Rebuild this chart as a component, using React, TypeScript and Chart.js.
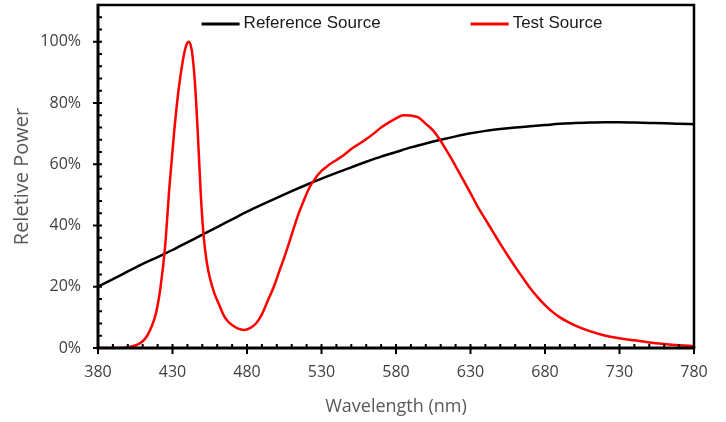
import React, { useEffect, useRef } from 'react';
import { Chart, registerables } from 'chart.js';

Chart.register(...registerables);

// Reference source (black) – wavelength (nm) and relative power (%)
const refWavelengths = [380, 390, 400, 410, 420, 430, 440, 450, 460, 470, 480, 490, 500, 510, 520, 530, 540, 550, 560, 570, 580, 590, 600, 610, 620, 630, 640, 650, 660, 670, 680, 690, 700, 710, 720, 730, 740, 750, 760, 770, 780];
const refValues = [20, 22.5, 25, 27.5, 29.7, 32, 34.5, 37, 39.5, 42, 44.5, 46.8, 49, 51.2, 53.3, 55.3, 57.2, 59, 60.8, 62.5, 64, 65.5, 66.8, 68, 69.1, 70.1, 70.9, 71.5, 72, 72.4, 72.8, 73.2, 73.5, 73.6, 73.7, 73.7, 73.6, 73.5, 73.4, 73.2, 73.1];

// Test source (red)
const testWavelengths = [380, 390, 398, 402, 406, 410, 413, 416, 419, 422, 425, 428, 431, 434, 437, 439, 441, 443, 445, 447, 449, 451, 453, 455, 458, 461, 464, 467, 470, 474, 478, 482, 486, 490, 494, 498, 502, 506, 510, 514, 518, 522, 526, 530, 535, 540, 545, 550, 555, 560, 565, 570, 575, 580, 585, 590, 595, 600, 605, 610, 615, 620, 625, 630, 635, 640, 645, 650, 655, 660, 665, 670, 675, 680, 685, 690, 695, 700, 710, 720, 730, 740, 750, 760, 770, 780];
const testValues = [0, 0, 0.1, 0.4, 1, 2.2, 4, 7, 11.5, 20, 33, 53, 70, 84, 94, 98.5, 100, 97, 87, 70, 50, 36, 28, 23, 18, 14.5, 11, 8.8, 7.5, 6.3, 5.9, 6.5, 8, 11, 15.5, 20, 25.5, 31, 37, 43, 48, 52.5, 55.5, 57.8, 59.8, 61.4, 63, 65, 66.6, 68.2, 70, 72, 73.6, 75, 76, 75.9, 75.3, 73.2, 71, 67.6, 63.6, 59.4, 55, 50.6, 46, 42, 38, 34, 30.2, 26.5, 23, 19.6, 16.6, 14, 11.8, 10, 8.6, 7.4, 5.5, 4.1, 3.2, 2.5, 1.8, 1.3, 0.9, 0.6];

const seriesNames = ['Reference Source', 'Test Source'];

// Axis ticks
const xTickLabels = [380, 430, 480, 530, 580, 630, 680, 730, 780];
const xMinorTicks = Array.from({ length: 41 }, (_, i) => 380 + i * 10);
const yTickLabels = [0, 20, 40, 60, 80, 100];
const yMinorTicks = Array.from({ length: 29 }, (_, i) => i * 4);

const framePlugin = {
  id: 'frameTicks',
  afterDatasetsDraw(chart: any) {
    const { ctx, chartArea } = chart;
    const { left, right, top, bottom } = chartArea;
    const xs = chart.scales.x;
    const ys = chart.scales.y;
    ctx.save();
    ctx.strokeStyle = '#000';
    ctx.lineCap = 'butt';
    // frame
    ctx.lineWidth = 2.5;
    ctx.beginPath();
    ctx.moveTo(left, top);
    ctx.lineTo(right, top);
    ctx.lineTo(right, bottom);
    ctx.stroke();
    ctx.lineWidth = 3;
    ctx.beginPath();
    ctx.moveTo(left, top - 1.25);
    ctx.lineTo(left, bottom);
    ctx.lineTo(right + 1.25, bottom);
    ctx.stroke();
    // ticks
    ctx.lineWidth = 2;
    ctx.beginPath();
    xMinorTicks.forEach((v) => {
      const px = xs.getPixelForValue(v);
      if (xTickLabels.includes(v)) {
        ctx.moveTo(px, bottom - 4);
        ctx.lineTo(px, bottom + 6);
      } else {
        ctx.moveTo(px, bottom - 4);
        ctx.lineTo(px, bottom);
      }
    });
    yMinorTicks.forEach((v) => {
      const py = ys.getPixelForValue(v);
      if (yTickLabels.includes(v)) {
        ctx.moveTo(left - 5, py);
        ctx.lineTo(left + 4, py);
      } else {
        ctx.moveTo(left, py);
        ctx.lineTo(left + 4, py);
      }
    });
    ctx.stroke();

    // legend (inside the plot, at top)
    ctx.font = '17px "Liberation Sans", Arial, sans-serif';
    ctx.textBaseline = 'middle';
    ctx.textAlign = 'left';
    const lineLen = 38;
    const textGap = 4;
    const itemGap = 90;
    const datasets = [chart.data.datasets[1], chart.data.datasets[0]];
    const widths = datasets.map((d: any) => ctx.measureText(d.label).width);
    const total = widths.reduce((a: number, w: number) => a + w + lineLen + textGap, 0) + itemGap;
    let x = (left + right) / 2 - total / 2 + 6;
    const y = top + 18;
    datasets.forEach((d: any, i: number) => {
      ctx.strokeStyle = d.borderColor;
      ctx.lineWidth = 3;
      ctx.beginPath();
      ctx.moveTo(x, y + 1);
      ctx.lineTo(x + lineLen, y + 1);
      ctx.stroke();
      ctx.fillStyle = '#1a1a1a';
      ctx.fillText(d.label, x + lineLen + textGap, y);
      x += lineLen + textGap + widths[i] + itemGap;
    });
    ctx.restore();
  },
};

export default function App() {
  const canvasRef = useRef<HTMLCanvasElement | null>(null);

  useEffect(() => {
    if (!canvasRef.current) return;
    const chart = new Chart(canvasRef.current, {
      type: 'line',
      data: {
        datasets: [
          {
            label: seriesNames[1],
            data: testWavelengths.map((w, i) => ({ x: w, y: testValues[i] })),
            borderColor: '#ff0000',
            borderWidth: 2.5,
            pointRadius: 0,
            cubicInterpolationMode: 'monotone',
            fill: false,
          },
          {
            label: seriesNames[0],
            data: refWavelengths.map((w, i) => ({ x: w, y: refValues[i] })),
            borderColor: '#000000',
            borderWidth: 2.5,
            pointRadius: 0,
            cubicInterpolationMode: 'monotone',
            fill: false,
          },
        ],
      },
      options: {
        animation: false,
        responsive: true,
        maintainAspectRatio: false,
        layout: { padding: { top: 5, right: 32, left: 0, bottom: 0 } },
        plugins: {
          legend: { display: false },
          tooltip: { enabled: false },
        },
        scales: {
          x: {
            type: 'linear',
            min: 380,
            max: 780,
            afterFit: (s: any) => {
              s.height = 74;
              s.paddingLeft = 0;
              s.paddingRight = 0;
            },
            afterBuildTicks: (s: any) => {
              s.ticks = xTickLabels.map((v) => ({ value: v }));
            },
            grid: { display: false, drawTicks: false },
            border: { display: false },
            ticks: {
              padding: 15,
              color: '#404040',
              font: { family: '"Open Sans", sans-serif', size: 16 },
              maxRotation: 0,
              autoSkip: false,
              callback: (v: any) => String(v),
            },
            title: {
              display: true,
              text: 'Wavelength (nm)',
              color: '#595959',
              font: { family: '"Open Sans", sans-serif', size: 18 },
              padding: { top: 0, bottom: 4 },
            },
          },
          y: {
            type: 'linear',
            min: 0,
            max: 112,
            afterFit: (s: any) => {
              s.width = 98;
              s.paddingTop = 0;
              s.paddingBottom = 0;
            },
            afterBuildTicks: (s: any) => {
              s.ticks = yTickLabels.map((v) => ({ value: v }));
            },
            grid: { display: false, drawTicks: false },
            border: { display: false },
            ticks: {
              padding: 17,
              color: '#404040',
              font: { family: '"Open Sans", sans-serif', size: 16 },
              autoSkip: false,
              callback: (v: any) => v + '%',
            },
            title: {
              display: true,
              text: 'Reletive Power',
              color: '#595959',
              font: { family: '"Open Sans", sans-serif', size: 20 },
              padding: { top: 10, bottom: 0 },
            },
          },
        },
      },
      plugins: [framePlugin],
    });
    return () => chart.destroy();
  }, []);

  return (
    <div style={{ position: 'fixed', left: 0, top: 0, width: 726, height: 422, background: '#fff' }}>
      <canvas ref={canvasRef} />
    </div>
  );
}
